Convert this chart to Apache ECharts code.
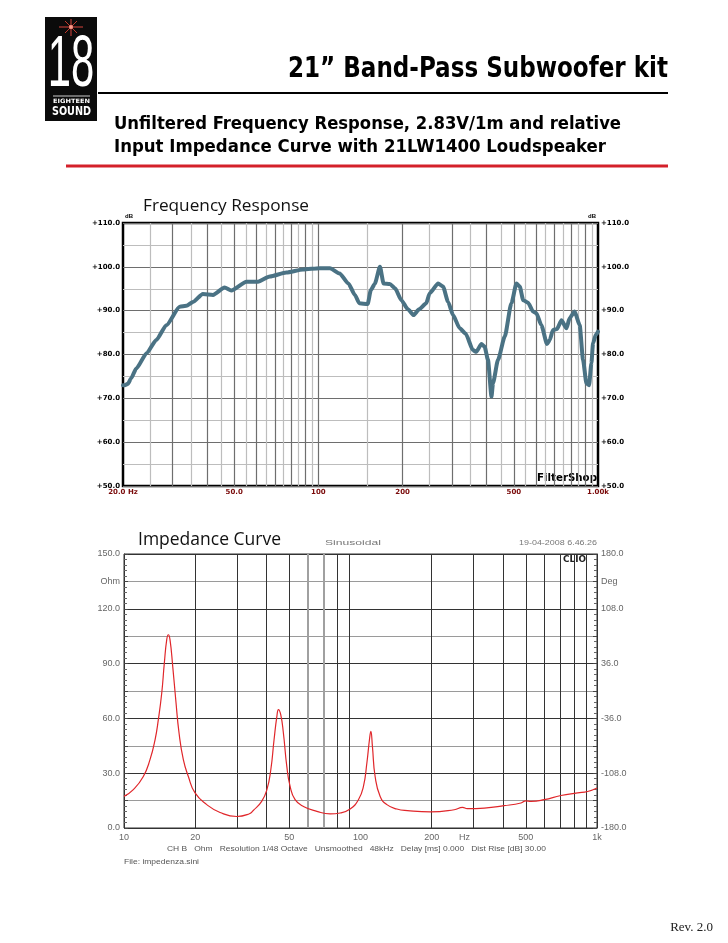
<!DOCTYPE html>
<html>
<head>
<meta charset="utf-8">
<title>21" Band-Pass Subwoofer kit</title>
<script src="https://cdn.jsdelivr.net/npm/echarts@6.0.0/dist/echarts.min.js"></script>
<style>
  html, body { margin: 0; padding: 0; background: #fff; }
  #main { width: 728px; height: 943px; }
</style>
</head>
<body>
<div id="main"></div>
<script>
// frequency response (FilterShop plot): Hz / dB
var frFreq = [20, 20.3, 20.8, 21.4, 22.3, 24.3, 26.3, 28.6, 31.9, 33.7,
  35.6, 38.6, 42.0, 46.2, 48.8, 55.3, 60.8, 67.0, 76.8, 88.1,
  101, 110, 119, 128, 135, 140, 150, 154, 159, 166,
  171, 180, 188, 198, 209, 219, 229, 243, 250, 268,
  279, 291, 303, 320, 336, 357, 367, 383, 393, 404,
  416, 421, 439, 464, 490, 511, 525, 540, 562, 586,
  602, 627, 657, 672, 690, 713, 740, 771, 792, 825,
  860, 884, 909, 929, 947, 960, 982, 1000];
var frDb = [73.0, 73.0, 73.3, 74.6, 76.8, 80.3, 83.3, 86.7, 90.9, 91.1,
  92.0, 93.8, 93.6, 95.3, 94.6, 96.6, 96.6, 97.8, 98.7, 99.4,
  99.7, 99.7, 98.5, 96.2, 93.6, 91.7, 91.5, 94.7, 96.1, 100.0,
  96.2, 96.1, 95.1, 92.4, 90.3, 89.0, 90.3, 91.7, 94.0, 96.2,
  95.5, 92.0, 89.0, 86.0, 84.8, 81.0, 80.6, 82.4, 81.8, 78.8,
  70.4, 73.4, 78.8, 84.1, 91.7, 96.2, 95.5, 92.4, 91.8, 89.8,
  89.4, 86.7, 82.4, 83.3, 85.6, 85.8, 87.8, 86.0, 88.3, 89.8,
  86.7, 78.8, 73.4, 73.0, 78.0, 82.6, 84.5, 85.2];
var frTicks = [20, 50, 100, 200, 500, 1000];
var frTickLabels = ['20.0 Hz', '50.0', '100', '200', '500', '1.00k'];
var frGridHz = [25, 30, 35, 40, 45, 50, 55, 60, 65, 70, 75, 80, 85, 90, 95, 100,
  150, 200, 250, 300, 350, 400, 450, 500, 550, 600, 650, 700, 750, 800, 850, 900, 950];

// impedance (CLIO plot): Hz / Ohm
var impFreq = [10, 10.95, 12.07, 12.88, 13.53, 13.97, 14.44, 14.81, 15.16, 15.4,
  15.65, 16.07, 16.55, 17.09, 17.82, 18.71, 19.97, 22.39, 25.48, 30.0,
  33.9, 35.2, 38.2, 40.2, 41.76, 43.1, 44.3, 44.97, 46.0, 47.2,
  48.8, 50.4, 52.9, 57.4, 65.4, 74.4, 82.0, 90.4, 98.0, 102.9,
  106.4, 109.1, 110.6, 112.3, 115.3, 121.1, 129.3, 142.5, 158, 198,
  249, 270, 283, 334, 405, 477, 500, 526, 598, 704,
  828, 913, 1000];
var impOhm = [17.3, 21.0, 28.2, 37.4, 48.3, 59.3, 73.9, 90.3, 103.1, 105.8,
  103.1, 88.5, 70.2, 52.0, 37.4, 28.2, 19.2, 12.8, 8.5, 6.3,
  7.8, 9.6, 14.6, 21.0, 31.9, 48.3, 61.1, 64.8, 62.0, 52.0,
  33.7, 22.8, 15.5, 11.8, 9.1, 7.7, 8.2, 10.4, 15.5, 22.8,
  35.6, 48.3, 52.9, 44.7, 28.2, 17.3, 12.8, 10.4, 9.5, 8.8,
  10.0, 11.3, 10.6, 10.9, 12.2, 13.7, 14.9, 14.6, 15.5, 17.8,
  19.2, 20.0, 21.9];
var impTicks = [10, 20, 50, 100, 200, 275, 500, 1000];
var impTickLabels = ['10', '20', '50', '100', '200', 'Hz', '500', '1k'];
var impGridHz = [20, 30, 40, 50, 60, 70, 80, 90, 200, 300, 400, 500, 600, 700, 800, 900];

function pairs(xs, ys) {
  return xs.map(function (x, i) { return [x, ys[i]]; });
}
function pickLabel(ticks, labels) {
  return function (v) {
    var best = 0;
    for (var i = 1; i < ticks.length; i++) {
      if (Math.abs(ticks[i] - v) < Math.abs(ticks[best] - v)) best = i;
    }
    return labels[best];
  };
}
// squeeze text to the width it has in the scan
var measureCtx = document.createElement('canvas').getContext('2d');
function fit(text, font, width) {
  measureCtx.font = font;
  return width / measureCtx.measureText(text).width;
}
function txt(x, y, text, font, fill, align, width) {
  var el = {
    type: 'text', x: x, y: y, silent: true,
    style: { text: text, font: font, fill: fill, align: align || 'left', textAlign: align || 'left',
      verticalAlign: 'middle', textVerticalAlign: 'middle' }
  };
  if (width) el.scaleX = fit(text, font, width);
  return el;
}

var sans = '"Liberation Sans", Arial, sans-serif';
var head = '"DejaVu Sans Condensed", "DejaVu Sans", sans-serif';

var title = '21\u201D Band-Pass Subwoofer kit';
var sub1 = 'Unfiltered Frequency Response, 2.83V/1m and relative';
var sub2 = 'Input Impedance Curve with 21LW1400 Loudspeaker';
var infoLine = 'CH B   Ohm   Resolution 1/48 Octave   Unsmoothed   48kHz   Delay [ms] 0.000   Dist Rise [dB] 30.00';

var graphics = [
  // logo
  { type: 'rect', silent: true, shape: { x: 45, y: 17, width: 52, height: 104 }, style: { fill: '#0b0b0b' } },
  { type: 'line', silent: true, shape: { x1: 59, y1: 27, x2: 83, y2: 27 }, style: { stroke: '#d8453c', lineWidth: 1 } },
  { type: 'line', silent: true, shape: { x1: 71, y1: 19, x2: 71, y2: 36 }, style: { stroke: '#d8453c', lineWidth: 1 } },
  { type: 'line', silent: true, shape: { x1: 65, y1: 21, x2: 77, y2: 33 }, style: { stroke: '#c0392b', lineWidth: 1 } },
  { type: 'line', silent: true, shape: { x1: 77, y1: 21, x2: 65, y2: 33 }, style: { stroke: '#c0392b', lineWidth: 1 } },
  { type: 'circle', silent: true, shape: { cx: 71, cy: 27, r: 2 }, style: { fill: '#ff9a8a' } },
  { type: 'text', silent: true, x: 71, y: 66, scaleX: 0.58,
    style: { text: '18', font: '72px ' + sans, fill: '#fff', align: 'center', textAlign: 'center',
      verticalAlign: 'middle', textVerticalAlign: 'middle' } },
  { type: 'line', silent: true, shape: { x1: 53, y1: 96, x2: 90, y2: 96 }, style: { stroke: '#fff', lineWidth: 0.8 } },
  txt(53, 101, 'EIGHTEEN', 'bold 6px ' + head, '#fff', 'left', 37),
  txt(52, 112, 'SOUND', 'bold 13px ' + head, '#fff', 'left', 39),

  // header
  txt(668, 70, title, 'bold 28px ' + head, '#000', 'right', 380),
  { type: 'line', silent: true, shape: { x1: 98, y1: 93, x2: 668, y2: 93 }, style: { stroke: '#000', lineWidth: 2 } },
  txt(114, 124, sub1, 'bold 18px ' + head, '#000', 'left', 507),
  txt(114, 147, sub2, 'bold 18px ' + head, '#000', 'left', 492),
  { type: 'line', silent: true, shape: { x1: 66, y1: 166, x2: 668, y2: 166 }, style: { stroke: '#d4202a', lineWidth: 3 } },

  // frequency response block
  txt(143, 206, 'Frequency Response', '17px "Open Sans", sans-serif', '#111', 'left', 166),
  txt(597, 478, 'FilterShop', 'bold 10px "DejaVu Sans", sans-serif', '#000', 'right', 60),

  // impedance block
  txt(138, 540, 'Impedance Curve', '18px "Open Sans", sans-serif', '#111', 'left', 143),
  txt(325, 543, 'Sinusoidal', '8px ' + sans, '#777', 'left', 56),
  txt(597, 543, '19-04-2008 6.46.26', '8px ' + sans, '#777', 'right', 78),
  txt(586, 560, 'CLIO', 'bold 8px "DejaVu Sans", sans-serif', '#222', 'right', 23),
  txt(167, 849, infoLine, '8px ' + sans, '#555', 'left', 379),
  txt(124, 862, 'File: impedenza.sini', '8px ' + sans, '#555', 'left', 75),

  txt(713, 928, 'Rev. 2.0', '13px "Liberation Serif", serif', '#222', 'right')
];

var frLabelFont = { fontFamily: '"DejaVu Sans", sans-serif', fontWeight: 'bold', fontSize: 7 };

var option = {
  animation: false,
  backgroundColor: '#fff',
  graphic: graphics,
  grid: [
    { left: 123, top: 223, width: 475, height: 263, show: true, borderColor: '#000', borderWidth: 2.5, backgroundColor: 'transparent' },
    { left: 124, top: 554, width: 473, height: 274, show: true, borderColor: '#333', borderWidth: 1, backgroundColor: 'transparent' }
  ],
  xAxis: [
    {
      type: 'log', gridIndex: 0, min: 20, max: 1000, logBase: 10,
      axisLine: { show: false }, axisTick: { show: false }, splitLine: { show: false },
      axisLabel: Object.assign({ customValues: frTicks, formatter: pickLabel(frTicks, frTickLabels),
        color: '#7a0a0a', margin: 3 }, frLabelFont)
    },
    {
      type: 'log', gridIndex: 1, min: 10, max: 1000, logBase: 10,
      axisLine: { show: false }, axisTick: { show: false }, splitLine: { show: false },
      axisLabel: { customValues: impTicks, formatter: pickLabel(impTicks, impTickLabels),
        color: '#666', fontFamily: sans, fontSize: 9, margin: 5 }
    }
  ],
  yAxis: [
    {
      type: 'value', gridIndex: 0, min: 50, max: 110, interval: 5,
      name: 'dB', nameLocation: 'end', nameGap: 1,
      nameTextStyle: { fontSize: 6, fontWeight: 'bold', color: '#000', align: 'left', padding: [0, 0, 0, 2] },
      axisLine: { show: false }, axisTick: { show: false },
      axisLabel: Object.assign({ color: '#000', margin: 3,
        formatter: function (v) { return v % 10 === 0 ? '+' + v.toFixed(1) : ''; } }, frLabelFont),
      splitLine: { show: true, lineStyle: { color: ['#6e6e6e', '#bdbdbd'], width: 1.2 } }
    },
    {
      type: 'value', gridIndex: 0, min: 50, max: 110, interval: 5, position: 'right',
      name: 'dB', nameLocation: 'end', nameGap: 1,
      nameTextStyle: { fontSize: 6, fontWeight: 'bold', color: '#000', align: 'right', padding: [0, 2, 0, 0] },
      axisLine: { show: false }, axisTick: { show: false }, splitLine: { show: false },
      axisLabel: Object.assign({ color: '#000', margin: 3,
        formatter: function (v) { return v % 10 === 0 ? '+' + v.toFixed(1) : ''; } }, frLabelFont)
    },
    {
      type: 'value', gridIndex: 1, min: 0, max: 150, interval: 15,
      axisLine: { show: true, lineStyle: { color: '#333' } },
      axisTick: { show: true, inside: true, length: 4, lineStyle: { color: '#444' } },
      minorTick: { show: true, splitNumber: 5, length: 3, lineStyle: { color: '#666' } },
      axisLabel: { color: '#666', fontFamily: sans, fontSize: 9, margin: 4,
        formatter: function (v) { return v === 135 ? 'Ohm' : (v % 30 === 0 ? v.toFixed(1) : ''); } },
      splitLine: { show: true, lineStyle: { color: ['#333', '#9a9a9a'], width: 1 } }
    },
    {
      type: 'value', gridIndex: 1, min: -180, max: 180, interval: 36, position: 'right',
      axisLine: { show: true, lineStyle: { color: '#333' } },
      axisTick: { show: true, inside: true, length: 4, lineStyle: { color: '#444' } },
      minorTick: { show: true, splitNumber: 5, length: 3, lineStyle: { color: '#666' } },
      splitLine: { show: false },
      axisLabel: { color: '#666', fontFamily: sans, fontSize: 9, margin: 4,
        formatter: function (v) {
          if (v === 144) return 'Deg';
          return (v + 180) % 72 === 0 ? v.toFixed(1) : '';
        } }
    }
  ],
  series: [
    {
      // vertical log grid of the FilterShop plot
      type: 'line', xAxisIndex: 0, yAxisIndex: 0, data: [], z: 1, silent: true,
      markLine: {
        silent: true, symbol: 'none', z: 1, animation: false, label: { show: false },
        data: frGridHz.map(function (f) {
          var major = f < 100 ? f % 10 === 0 : f % 100 === 0;
          return { xAxis: f, lineStyle: { type: 'solid', width: 1.2, color: major ? '#6e6e6e' : '#bdbdbd' } };
        })
      }
    },
    {
      name: 'SPL', type: 'line', xAxisIndex: 0, yAxisIndex: 0, z: 10,
      data: pairs(frFreq, frDb), showSymbol: false, smooth: 0.2, smoothMonotone: 'x',
      lineStyle: { color: '#4a7284', width: 4, cap: 'round', join: 'round' }
    },
    {
      // vertical log grid of the CLIO plot
      type: 'line', xAxisIndex: 1, yAxisIndex: 2, data: [], z: 1, silent: true,
      markLine: {
        silent: true, symbol: 'none', z: 1, animation: false, label: { show: false },
        data: impGridHz.map(function (f) {
          var soft = f === 60 || f === 70;
          return { xAxis: f, lineStyle: { type: 'solid', width: soft ? 2 : 1, color: soft ? '#a0a0a0' : '#333' } };
        })
      }
    },
    {
      name: 'Impedance', type: 'line', xAxisIndex: 1, yAxisIndex: 2, z: 10,
      data: pairs(impFreq, impOhm), showSymbol: false, smooth: 0.5,
      lineStyle: { color: '#e0262a', width: 1.2, join: 'round' }
    }
  ]
};

var myChart = echarts.init(document.getElementById('main'));
myChart.setOption(option);
</script>
</body>
</html>
